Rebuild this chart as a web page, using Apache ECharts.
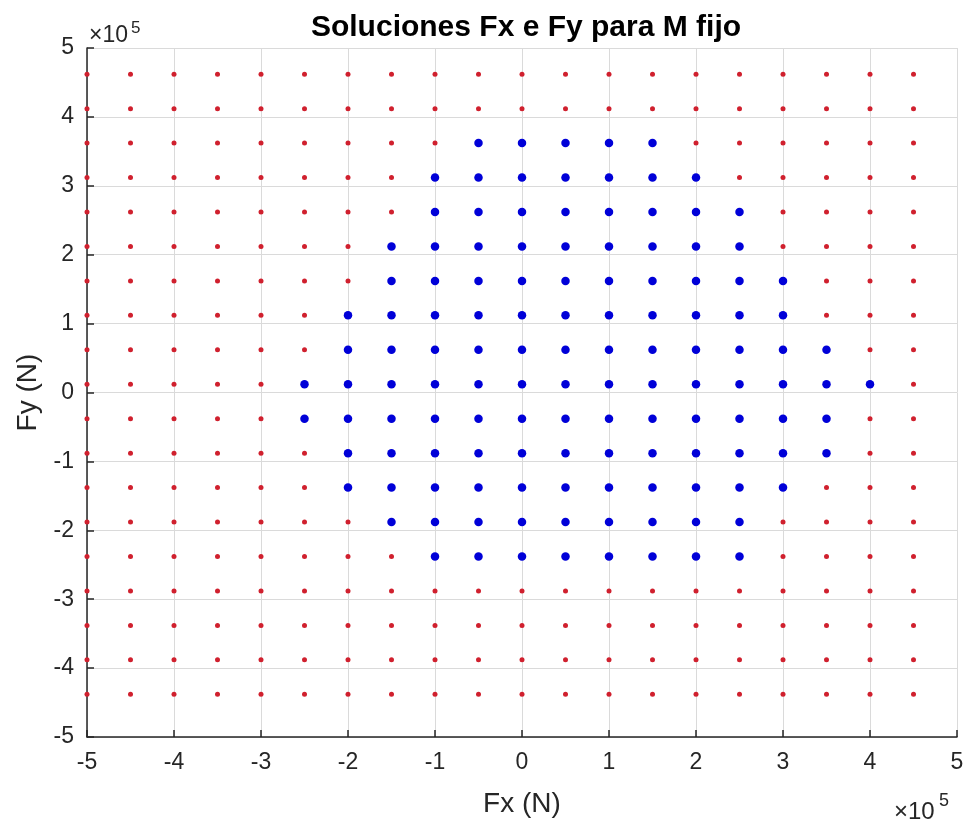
<!DOCTYPE html>
<html>
<head>
<meta charset="utf-8">
<title>Soluciones Fx e Fy para M fijo</title>
<script src="https://cdn.jsdelivr.net/npm/echarts@6/dist/echarts.min.js"></script>
<style>
  html, body { margin: 0; padding: 0; background: #ffffff; }
  #chart { width: 968px; height: 825px; }
</style>
</head>
<body>
<div id="chart"></div>
<script>
// Grid of tested force values (N)
const fxValues = [-500000, -450000, -400000, -350000, -300000, -250000, -200000, -150000, -100000, -50000,
                  0, 50000, 100000, 150000, 200000, 250000, 300000, 350000, 400000, 450000];
const fyValues = [462000, 412000, 362000, 312000, 262000, 212000, 162000, 112000, 62000, 12000,
                  -38000, -88000, -138000, -188000, -238000, -288000, -338000, -388000, -438000];

// Valid solutions: for each Fy row, the Fx range [from, to] that satisfies the condition
const solutionRows = [
  [362000, -50000, 150000],
  [312000, -100000, 200000],
  [262000, -100000, 250000],
  [212000, -150000, 250000],
  [162000, -150000, 300000],
  [112000, -200000, 300000],
  [62000, -200000, 350000],
  [12000, -250000, 400000],
  [-38000, -250000, 350000],
  [-88000, -200000, 350000],
  [-138000, -200000, 300000],
  [-188000, -150000, 250000],
  [-238000, -100000, 250000]
];

// Axis ticks (shown in units of 10^5)
const tickValues = [-5, -4, -3, -2, -1, 0, 1, 2, 3, 4, 5];
const axisScale = 100000;

function isSolution(fx, fy) {
  return solutionRows.some(r => r[0] === fy && fx >= r[1] && fx <= r[2]);
}

const solutionPts = [];
const otherPts = [];
fyValues.forEach(fy => {
  fxValues.forEach(fx => {
    if (isSolution(fx, fy)) solutionPts.push([fx, fy]);
    else otherPts.push([fx, fy]);
  });
});

const textColor = '#262626';
const fontFamily = 'Liberation Sans, Arial, Helvetica, sans-serif';
const gridColor = '#dadada';

const chart = echarts.init(document.getElementById('chart'), null, { renderer: 'canvas' });

function axisCommon(isX) {
  return {
    type: 'value',
    min: tickValues[0] * axisScale,
    max: tickValues[tickValues.length - 1] * axisScale,
    interval: axisScale,
    axisLine: { show: true, onZero: false, lineStyle: { color: textColor, width: 1.5 } },
    axisTick: { show: true, inside: true, length: 7, lineStyle: { color: textColor, width: 1.5 } },
    splitLine: { show: true, lineStyle: { color: gridColor, width: 1 } },
    axisLabel: {
      color: textColor,
      fontSize: 23,
      fontFamily: fontFamily,
      margin: isX ? 14 : 13,
      formatter: v => String(Math.round(v / axisScale))
    },
    nameLocation: 'middle',
    nameTextStyle: { color: textColor, fontSize: 28, fontFamily: fontFamily }
  };
}

const option = {
  backgroundColor: '#ffffff',
  animation: false,
  title: {
    text: 'Soluciones Fx e Fy para M fijo',
    left: 521,
    textAlign: 'center',
    top: 8,
    textStyle: { color: '#000000', fontSize: 30, fontWeight: 'bold', fontFamily: fontFamily }
  },
  grid: { left: 87, right: 11, top: 48, bottom: 88, containLabel: false },
  xAxis: Object.assign(axisCommon(true), { name: 'Fx (N)', nameGap: 53 }),
  yAxis: Object.assign(axisCommon(false), { name: 'Fy (N)', nameGap: 45 }),
  series: [
    {
      type: 'scatter',
      data: otherPts,
      symbol: 'circle',
      symbolSize: 5,
      itemStyle: { color: '#d0202e', opacity: 1 },
      silent: true,
      z: 2
    },
    {
      type: 'scatter',
      data: solutionPts,
      symbol: 'circle',
      symbolSize: 8.5,
      itemStyle: { color: '#0000d8', opacity: 1 },
      silent: true,
      z: 3
    }
  ],
  graphic: [
    {
      type: 'text', x: 89, y: 36,
      style: { text: '×10', fill: textColor, fontSize: 23, fontFamily: fontFamily, verticalAlign: 'middle' }
    },
    {
      type: 'text', x: 131, y: 28,
      style: { text: '5', fill: textColor, fontSize: 17, fontFamily: fontFamily, verticalAlign: 'middle' }
    },
    {
      type: 'text', x: 894, y: 812,
      style: { text: '×10', fill: textColor, fontSize: 24, fontFamily: fontFamily, verticalAlign: 'middle' }
    },
    {
      type: 'text', x: 939, y: 801,
      style: { text: '5', fill: textColor, fontSize: 18, fontFamily: fontFamily, verticalAlign: 'middle' }
    }
  ]
};

chart.setOption(option);
</script>
</body>
</html>
